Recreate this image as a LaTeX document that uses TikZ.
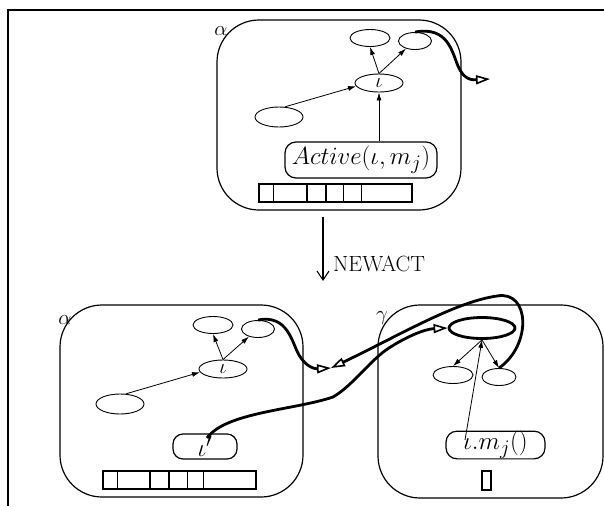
\documentclass[tikz,border=0pt]{standalone}
\usetikzlibrary{arrows.meta,shapes.geometric}
\begin{document}
\begin{tikzpicture}[x=1pt,y=-1pt,
  world/.style={draw,rounded corners=42pt,line width=1.2pt,inner sep=0pt},
  pill/.style={draw,rounded corners=11pt,line width=1.2pt,inner sep=0pt},
  ov/.style={ellipse,draw,line width=0.9pt,inner sep=0pt},
  arr/.style={-{Latex[length=8pt,width=5pt]},line width=0.8pt},
  wire/.style={line width=2.8pt},
  opentip/.style={-{Triangle[open,length=14pt,width=9pt,line width=1.6pt]}},
  lbl/.style={inner sep=0pt,font=\fontsize{20.74}{25}\selectfont},
  bigm/.style={inner sep=0pt,font=\fontsize{24.88}{29}\selectfont},
  smm/.style={font=\fontsize{20.74}{25}\selectfont}
]
\useasboundingbox (0,0) rectangle (604,506);
% frame
\draw[line width=2pt] (8,506) -- (8,10) -- (606,10);

% ---------- top world alpha ----------
\node[world,minimum width=244pt,minimum height=190pt] (wtop) at (339,115) {};
\node[lbl] (latop) at (221,31) {$\alpha$};
\node[ov,minimum width=40pt,minimum height=17pt] (ta) at (370,38) {};
\node[ov,minimum width=33pt,minimum height=17pt] (tb) at (415,41) {};
\node[ov,minimum width=48pt,minimum height=18pt,smm] (ti) at (379,83) {$\iota$};
\node[ov,minimum width=48pt,minimum height=20pt] (tl) at (279,117) {};
\node[pill,minimum width=152pt,minimum height=36pt,bigm] (tact) at (361,160) {$Active(\iota,m_j)$};
\draw[arr] (tl.60) -- (ti.188);
\draw[arr] (tact.north -| ti.south) -- (ti.south);
\draw[arr] (ti.north) -- (ta.south);
\draw[arr] (ti.north) -- (tb.220);
% bar
\draw[line width=1.3pt] (259,184) rectangle (412,202);
\draw[line width=0.7pt] (273,184) -- (273,202) (343,184) -- (343,202) (361,184) -- (361,202);
\draw[line width=2.8pt] (307,184) rectangle (326,202);
% wire leaving
\coordinate (tout) at (490,79);
\draw[wire,opentip] (tb.north) .. controls (448,26) and (452,52) .. (458,66) .. controls (464,80) and (472,80) .. (tout);

% NEWACT
\coordinate (na) at (323,217);
\coordinate (nb) at (323,281);
\draw[line width=1.1pt,-{Straight Barb[length=9pt,width=12pt,line width=1.1pt]}] (na) -- (nb);
\node[anchor=west,inner sep=0pt,font=\fontsize{22}{26}\selectfont] (newact) at (333,264) {NEWACT};

% ---------- bottom-left world alpha ----------
\node[world,minimum width=243pt,minimum height=192pt] (wbl) at (181.5,401) {};
\node[lbl] (labl) at (65,320) {$\alpha$};
\node[ov,minimum width=40pt,minimum height=17pt] (ba) at (213,325) {};
\node[ov,minimum width=33pt,minimum height=17pt] (bb) at (258,329) {};
\node[ov,minimum width=48pt,minimum height=18pt,smm] (bi) at (223,369) {$\iota$};
\node[ov,minimum width=48pt,minimum height=20pt] (bl) at (120,404) {};
\node[pill,minimum width=64pt,minimum height=25pt,rounded corners=10pt,bigm] (bip) at (205,446.5) {$\iota'$};
\draw[arr] (bl.60) -- (bi.188);
\draw[arr] (bi.north) -- (ba.south);
\draw[arr] (bi.north) -- (bb.220);
% bar
\draw[line width=1.3pt] (103,471) rectangle (256,489);
\draw[line width=0.7pt] (117,471) -- (117,489) (187,471) -- (187,489) (203,471) -- (203,489);
\draw[line width=2.8pt] (150,471) rectangle (169,489);

% ---------- gamma world ----------
\node[world,minimum width=225pt,minimum height=193pt] (wg) at (490.5,401.5) {};
\node[lbl] (lg) at (382,318) {$\gamma$};
\node[ellipse,draw,line width=2.8pt,inner sep=0pt,minimum width=66pt,minimum height=21pt] (gm) at (482,328) {};
\node[ov,minimum width=40pt,minimum height=17pt] (ga) at (453,375) {};
\node[ov,minimum width=34pt,minimum height=17pt] (gb) at (499,377) {};
\node[pill,minimum width=99pt,minimum height=26pt,rounded corners=11pt,bigm] (gcall) at (495.5,445) {$\iota.m_j()$};
\draw[line width=1.6pt] (482,471) rectangle (491,490);
\draw[arr] (gm.south) -- (ga.north);
\draw[arr] (gm.south) -- (gb.north);
\coordinate (gstart) at (465,440);
\draw[arr] (gstart) -- (gm.south);

% wires
\coordinate (meet) at (331,368);
\draw[wire,opentip] (bb.north) .. controls (288,314) and (292,343) .. (299,355) .. controls (306,367) and (315,369) .. (meet);
\draw[wire,opentip] (gb.north) .. controls (532,345) and (530,290) .. (497,296) .. controls (455,302) and (400,335) .. (meet);
\coordinate (ipstart) at (207,438);
\draw[wire,opentip] (ipstart) .. controls (226,412) and (295,410) .. (333,397) .. controls (352,386) and (368,363) .. (386,350) .. controls (405,337) and (425,329) .. (gm.west);
\end{tikzpicture}
\end{document}
